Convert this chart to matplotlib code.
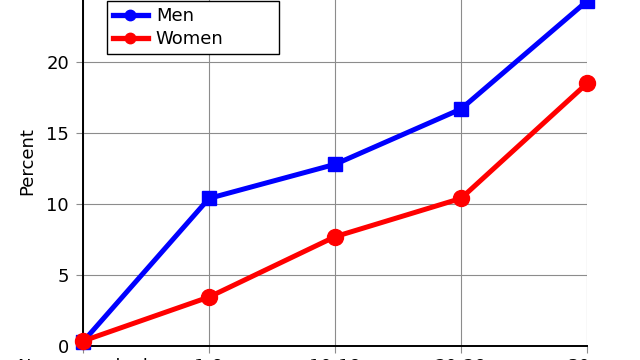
import matplotlib.pyplot as plt
from matplotlib.lines import Line2D

# values
groups = ["Never smoked", "1-9", "10-19", "20-29", "30+"]
men = [0.3, 10.4, 12.8, 16.7, 24.3]
women = [0.35, 3.45, 7.7, 10.4, 18.5]
yticks = [0, 5, 10, 15, 20]

plt.rcParams['font.family'] = ['DejaVu Sans']
plt.rcParams['font.size'] = 13

fig = plt.figure(figsize=(6.4, 3.6), dpi=100)
# axes runs past the top of the figure, as in the cropped reference
ax = fig.add_axes([83 / 640, 14 / 360, 504 / 640, 369 / 360])

x = range(len(groups))
ax.plot(x, men, color='#0000ff', lw=3.6, marker='s', ms=10.5, clip_on=False, zorder=3)
ax.plot(x, women, color='#ff0000', lw=3.6, marker='o', ms=11.5, clip_on=False, zorder=3)

ax.set_xlim(0, len(groups) - 1)
ax.set_ylim(0, 26)
ax.set_xticks(list(x))
ax.set_xticklabels(groups)
ax.set_yticks(yticks)
ax.grid(True, color='#8c8c8c', lw=0.8)
ax.set_axisbelow(True)
ax.tick_params(length=5, color='#8c8c8c', width=0.8)
ax.tick_params(axis='y', pad=5)
ax.tick_params(axis='x', pad=3.5)

for side in ['top', 'right']:
    ax.spines[side].set_visible(False)
for side in ['left', 'bottom']:
    ax.spines[side].set_linewidth(1.4)
    ax.spines[side].set_color('black')

ax.set_ylabel('Percent', labelpad=7)

# legend shows round markers for both series
handles = [Line2D([], [], color='#0000ff', lw=3.8, marker='o', ms=7.5),
           Line2D([], [], color='#ff0000', lw=3.8, marker='o', ms=7.5)]
leg = fig.legend(handles, ['Men', 'Women'], loc='upper left', mode='expand',
                 bbox_to_anchor=(107 / 640, 306 / 360, 172 / 640, 53 / 360),
                 borderaxespad=0, fancybox=False, framealpha=1, edgecolor='black',
                 handlelength=1.9, borderpad=0.35, labelspacing=0.25,
                 handletextpad=0.45)
leg.get_frame().set_linewidth(1.0)
leg.set_zorder(5)

fig.savefig('out.png', dpi=100)
